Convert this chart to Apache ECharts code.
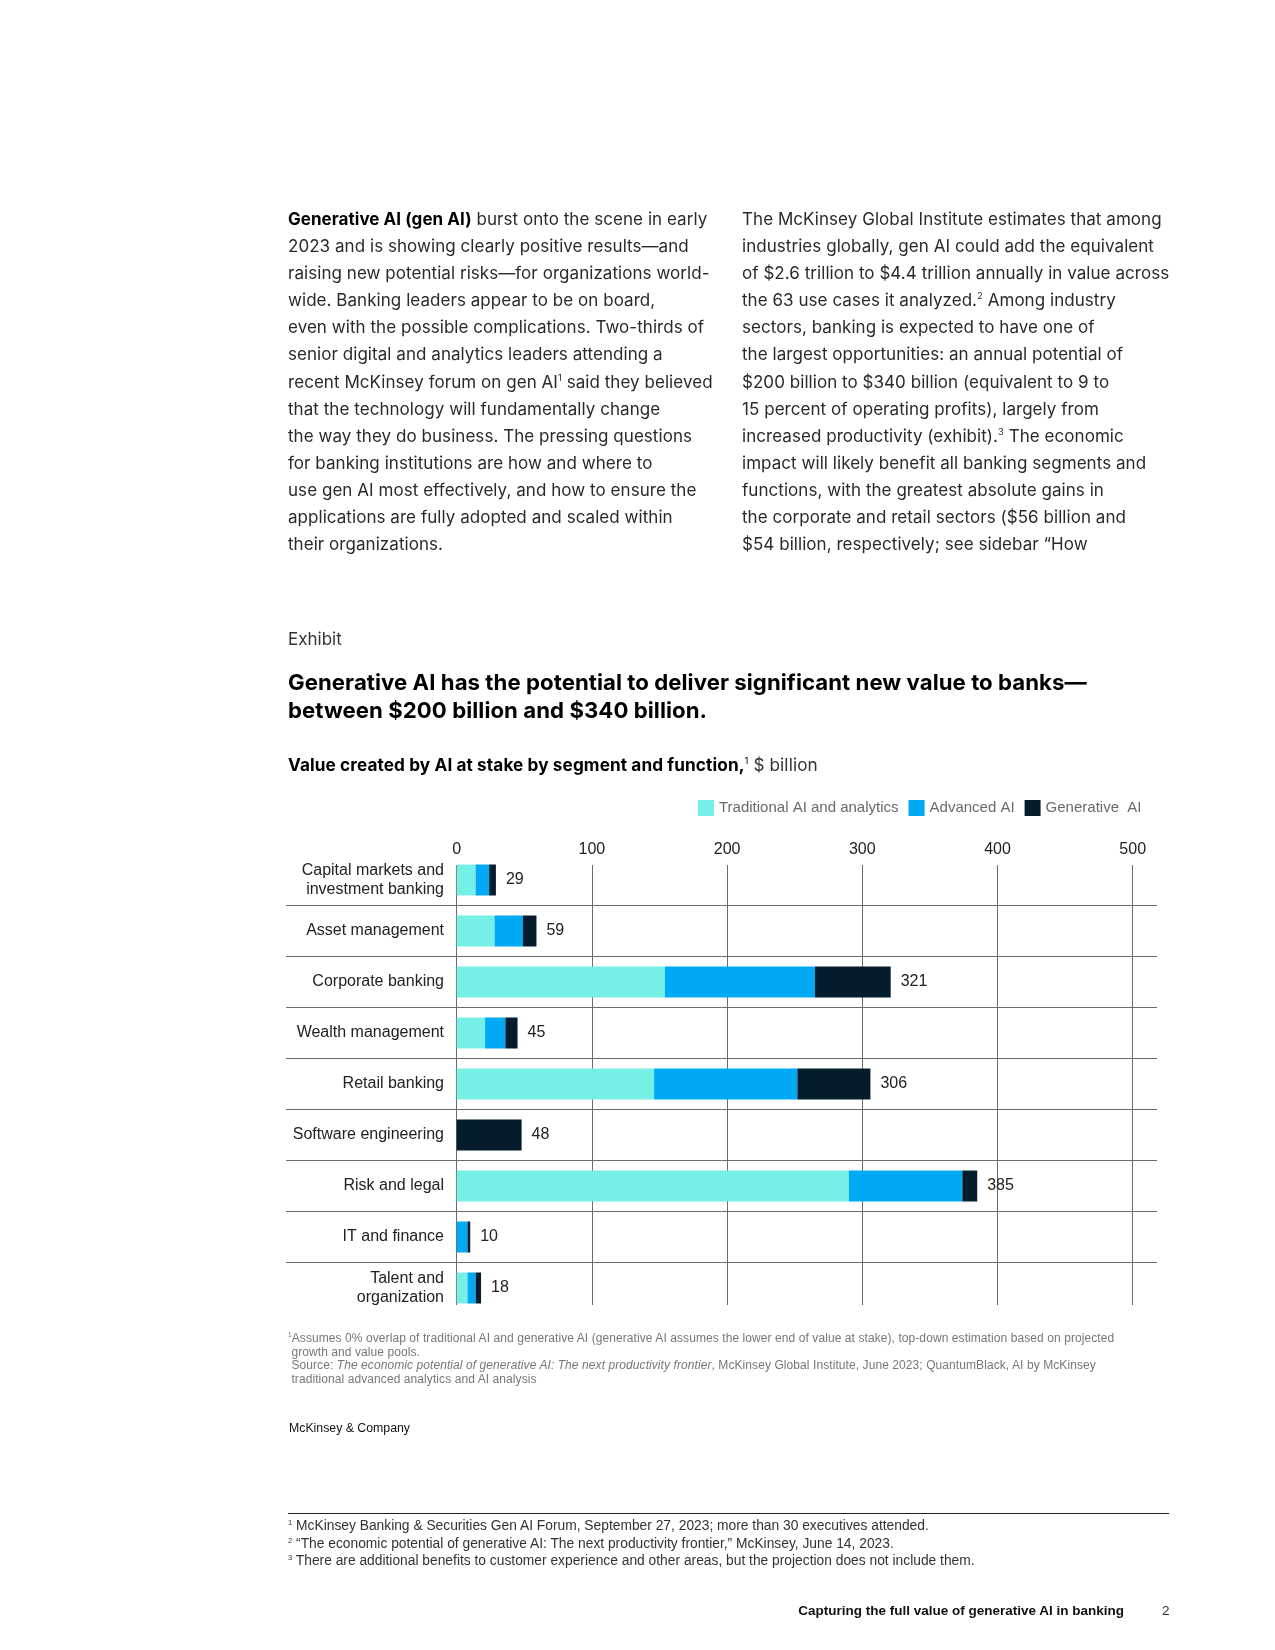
<!DOCTYPE html>
<html>
<head>
<meta charset="utf-8">
<script src="https://cdn.jsdelivr.net/npm/echarts@6/dist/echarts.min.js"></script>
<style>
  html, body { margin: 0; padding: 0; background: #fff; }
  #page { position: relative; width: 1275px; height: 1650px; overflow: hidden; font-family: Inter, "Liberation Sans", sans-serif; color: #222; }
  #chart { position: absolute; left: 0; top: 0; width: 1275px; height: 1650px; }
  .t { position: absolute; white-space: nowrap; }
  .body { font-size: 17px; line-height: 27.1px; color: #2a2a2a; letter-spacing: 0.05px; }
  sup { font-size: 0.55em; line-height: 0; vertical-align: 0.7em; }
</style>
</head>
<body>
<div id="page">
  <div id="chart"></div>

  <div class="t body" style="left:288px; top:206px;">
    <b style="color:#000">Generative AI (gen AI)</b> burst onto the scene in early<br>
    2023 and is showing clearly positive results—and<br>
    raising new potential risks—for organizations world-<br>
    wide. Banking leaders appear to be on board,<br>
    even with the possible complications. Two-thirds of<br>
    senior digital and analytics leaders attending a<br>
    recent McKinsey forum on gen AI<sup>1</sup> said they believed<br>
    that the technology will fundamentally change<br>
    the way they do business. The pressing questions<br>
    for banking institutions are how and where to<br>
    use gen AI most effectively, and how to ensure the<br>
    applications are fully adopted and scaled within<br>
    their organizations.
  </div>

  <div class="t body" style="left:742px; top:206px;">
    The McKinsey Global Institute estimates that among<br>
    industries globally, gen AI could add the equivalent<br>
    of $2.6 trillion to $4.4 trillion annually in value across<br>
    the 63 use cases it analyzed.<sup>2</sup> Among industry<br>
    sectors, banking is expected to have one of<br>
    the largest opportunities: an annual potential of<br>
    $200 billion to $340 billion (equivalent to 9 to<br>
    15 percent of operating profits), largely from<br>
    increased productivity (exhibit).<sup>3</sup> The economic<br>
    impact will likely benefit all banking segments and<br>
    functions, with the greatest absolute gains in<br>
    the corporate and retail sectors ($56 billion and<br>
    $54 billion, respectively; see sidebar “How
  </div>

  <div class="t" style="left:288px; top:629px; font-size:17px; color:#333;">Exhibit</div>

  <div class="t" style="left:288px; top:668px; font-size:22.2px; line-height:28.3px; font-weight:700; color:#000; letter-spacing:0.05px;">
    Generative AI has the potential to deliver significant new value to banks—<br>
    between $200 billion and $340 billion.
  </div>

  <div class="t" style="left:288px; top:754px; font-size:17.2px; color:#000; letter-spacing:0.1px;">
    <b>Value created by AI at stake by segment and function,</b><sup>1</sup> <span style="color:#333">$ billion</span>
  </div>

  <div class="t" style="left:288px; top:1332px; font-size:12px; line-height:13.7px; color:#777; letter-spacing:0.08px; font-family:'Liberation Sans', sans-serif;">
    <sup>1</sup>Assumes 0% overlap of traditional AI and generative AI (generative AI assumes the lower end of value at stake), top-down estimation based on projected<br>
    &nbsp;growth and value pools.<br>
    &nbsp;Source: <i>The economic potential of generative AI: The next productivity frontier</i>, McKinsey Global Institute, June 2023; QuantumBlack, AI by McKinsey<br>
    &nbsp;traditional advanced analytics and AI analysis
  </div>

  <div class="t" style="left:289px; top:1421px; font-size:12.3px; color:#111; font-family:'Liberation Sans', sans-serif;">McKinsey &amp; Company</div>

  <div style="position:absolute; left:288px; top:1513px; width:881px; height:1px; background:#222;"></div>

  <div class="t" style="left:288px; top:1517px; font-size:13.8px; line-height:17.7px; color:#333; font-family:'Liberation Sans', sans-serif;">
    <sup>1</sup> McKinsey Banking &amp; Securities Gen AI Forum, September 27, 2023; more than 30 executives attended.<br>
    <sup>2</sup> “The economic potential of generative AI: The next productivity frontier,” McKinsey, June 14, 2023.<br>
    <sup>3</sup> There are additional benefits to customer experience and other areas, but the projection does not include them.
  </div>

  <div class="t" style="right:151px; top:1603px; font-size:13.5px; font-weight:700; color:#111; font-family:'Liberation Sans', sans-serif;">Capturing the full value of generative AI in banking</div>
  <div class="t" style="left:1162px; top:1603px; font-size:13.5px; color:#333; font-family:'Liberation Sans', sans-serif;">2</div>
</div>

<script>
// ---- data ----
const categories = [
  'Capital markets and\ninvestment banking',
  'Asset management',
  'Corporate banking',
  'Wealth management',
  'Retail banking',
  'Software engineering',
  'Risk and legal',
  'IT and finance',
  'Talent and\norganization'
];
const traditionalAI = [14, 28, 154, 21, 146, 0, 290, 0, 8];
const advancedAI    = [10, 21, 111, 15, 106, 0, 84, 8, 6];
const generativeAI  = [5, 10, 56, 9, 54, 48, 11, 2, 4];
const totals        = [29, 59, 321, 45, 306, 48, 385, 10, 18];
const xTicks        = [0, 100, 200, 300, 400, 500];
const seriesNames   = ['Traditional AI and analytics', 'Advanced AI', 'Generative  AI'];

const colors = ['#76F0E6', '#00A9F4', '#051C2C'];
const gridColor = '#6b6b6b';
const fontFam = "'Liberation Sans', Arial, sans-serif";

const chart = echarts.init(document.getElementById('chart'), null, { renderer: 'canvas' });

const barBase = {
  type: 'bar', stack: 'total', xAxisIndex: 0, yAxisIndex: 0,
  barWidth: 31, animation: false, emphasis: { disabled: true }
};

chart.setOption({
  animation: false,
  color: colors,
  legend: {
    data: seriesNames,
    left: 693, top: 795,
    icon: 'rect', itemWidth: 16, itemHeight: 16, itemGap: 10,
    selectedMode: false,
    textStyle: { fontSize: 15, color: '#6a6a6a', fontFamily: fontFam }
  },
  grid: [
    { left: 456.7, width: 676, top: 854.5, height: 459 },   // bars
    { left: 456.7, width: 676, top: 865, height: 440 },     // vertical grid lines
    { left: 286, width: 871, top: 854.5, height: 459 }      // row separators
  ],
  xAxis: [
    { gridIndex: 0, type: 'value', min: xTicks[0], max: xTicks[xTicks.length - 1], show: false },
    { gridIndex: 1, type: 'value', min: xTicks[0], max: xTicks[xTicks.length - 1], interval: xTicks[1] - xTicks[0],
      position: 'top', axisLine: { show: false }, axisTick: { show: false },
      splitLine: { show: true, lineStyle: { color: gridColor, width: 1 } },
      axisLabel: { margin: 7, fontSize: 16, color: '#222', fontFamily: fontFam } },
    { gridIndex: 2, type: 'value', min: 0, max: 1, show: false }
  ],
  yAxis: [
    { gridIndex: 0, type: 'category', data: categories, inverse: true,
      axisLine: { show: false }, axisTick: { show: false }, splitLine: { show: false },
      axisLabel: { margin: 12.7, fontSize: 16, lineHeight: 19, color: '#222', fontFamily: fontFam, align: 'right' } },
    { gridIndex: 1, type: 'value', show: false, min: 0, max: 1 },
    { gridIndex: 2, type: 'value', min: 0, max: categories.length, interval: 1,
      axisLine: { show: false }, axisTick: { show: false }, axisLabel: { show: false },
      splitLine: { show: true, showMinLine: false, showMaxLine: false, lineStyle: { color: gridColor, width: 1 } } }
  ],
  series: [
    Object.assign({}, barBase, { name: seriesNames[0], data: traditionalAI }),
    Object.assign({}, barBase, { name: seriesNames[1], data: advancedAI }),
    Object.assign({}, barBase, { name: seriesNames[2], data: generativeAI,
      label: { show: true, position: 'right', distance: 10, fontSize: 16, color: '#222', fontFamily: fontFam,
               formatter: p => String(totals[p.dataIndex]) } })
  ]
});
</script>
</body>
</html>
